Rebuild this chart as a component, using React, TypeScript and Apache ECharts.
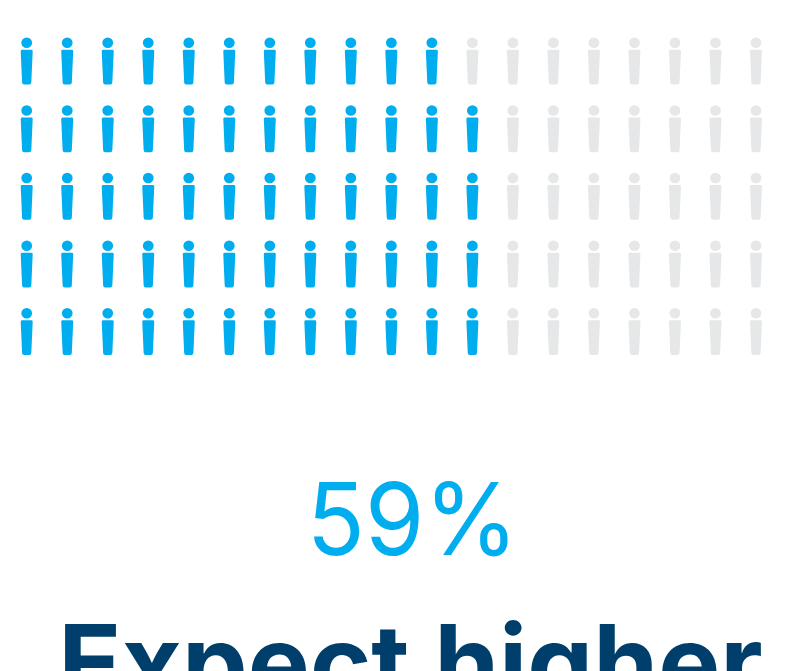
import React, { useEffect, useRef } from "react";
import * as echarts from "echarts";

const columnCount = 19;
const filledPerRow = [11, 12, 12, 12, 12];
const headline = "59%";
const caption = "Expect higher";

const BLUE = "#00AEEF";
const GREY = "#E6E7E8";
const NAVY = "#003F6B";

// Standing figure: round head above a tapered, rounded body.
const PERSON =
  "path://M6 0A5.4 5.4 0 1 1 6 10.8A5.4 5.4 0 1 1 6 0ZM1.5 12.6H10.5Q12 12.6 12 14.1L10.6 46Q10.5 48 8.6 48H3.4Q1.5 48 1.4 46L0 14.1Q0 12.6 1.5 12.6Z";

const cells = (filled: boolean) =>
  filledPerRow.flatMap((count, row) =>
    Array.from({ length: columnCount }, (_, col) => [col, row, col < count])
      .filter((c) => c[2] === filled)
      .map((c) => [c[0], c[1]])
  );

export default function App() {
  const ref = useRef<HTMLDivElement>(null);
  useEffect(() => {
    document.body.style.margin = "0";
    const chart = echarts.init(ref.current!, undefined, { renderer: "svg" });
    const series = (data: number[][], color: string) => ({
      type: "scatter",
      data,
      symbol: PERSON,
      symbolSize: [12, 47],
      itemStyle: { color, opacity: 1 },
      silent: true,
    });
    chart.setOption({
      animation: false,
      backgroundColor: "#fff",
      grid: { left: 26.7, right: 29, top: 61, height: 270.5 },
      xAxis: { type: "value", min: 0, max: columnCount - 1, show: false },
      yAxis: { type: "value", min: 0, max: filledPerRow.length - 1, inverse: true, show: false },
      series: [series(cells(true), BLUE), series(cells(false), GREY)],
      graphic: [
        {
          type: "text",
          x: 412.5,
          y: 569,
          scaleX: 0.957,
          style: {
            text: headline,
            fill: BLUE,
            font: '400 100px Inter',
            textAlign: "center",
            textVerticalAlign: "bottom",
          },
        },
        {
          type: "text",
          x: 410.5,
          y: 714,
          scaleX: 1.003,
          style: {
            text: caption,
            fill: NAVY,
            font: '700 104px Inter',
            textAlign: "center",
            textVerticalAlign: "bottom",
          },
        },
      ],
    });
    return () => chart.dispose();
  }, []);
  return <div ref={ref} style={{ width: 785, height: 671, overflow: "hidden" }} />;
}
